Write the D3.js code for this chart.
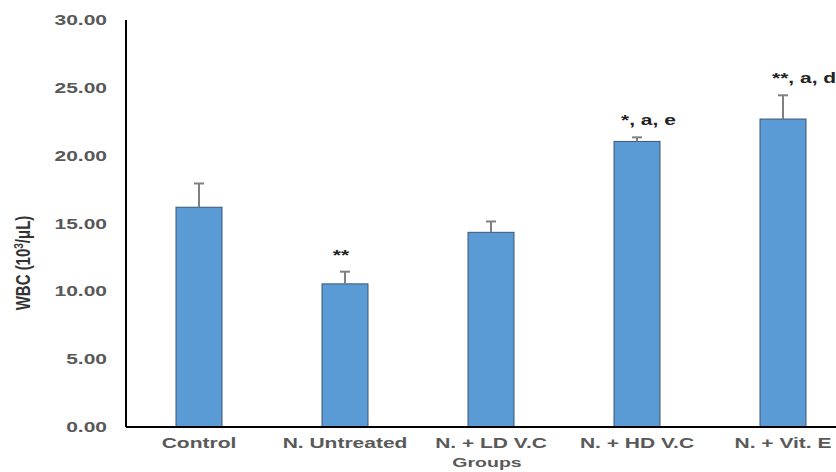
<!DOCTYPE html>
<html>
<head>
<meta charset="utf-8">
<script src="https://cdn.jsdelivr.net/npm/d3@7"></script>
<style>
  body { margin: 0; background: #fff; }
  text { font-family: "Liberation Sans", Arial, sans-serif; font-weight: bold; }
</style>
</head>
<body>
<svg id="chart" width="836" height="472"></svg>
<script>
// data
const groups = ["Control", "N. Untreated", "N. + LD V.C", "N. + HD V.C", "N. + Vit. E"];
const means = [16.2, 10.55, 14.35, 21.05, 22.7];
const errs = [1.75, 0.9, 0.8, 0.3, 1.75];
const marks = ["", "**", "", "*, a, e", "**, a, d"];
const yTicks = [0, 5, 10, 15, 20, 25, 30];

const svg = d3.select("#chart");
const sx = 1.5; // text in the picture is stretched wide

const x = d3.scaleBand().domain(groups).range([126, 856]).paddingInner(0.685).paddingOuter(0.3425);
const y = d3.scaleLinear().domain([0, 30]).range([427, 20]);

// y tick labels
svg.selectAll(".ylab")
  .data(yTicks).enter().append("text")
  .attr("transform", d => "translate(107," + (y(d) + 5) + ") scale(" + sx + ",1)")
  .attr("text-anchor", "end")
  .style("font-size", "14px")
  .attr("fill", "#595959")
  .text(d => d.toFixed(2));

// bars
svg.selectAll(".bar")
  .data(groups).enter().append("rect")
  .attr("x", d => x(d))
  .attr("width", x.bandwidth())
  .attr("y", (d, i) => y(means[i]))
  .attr("height", (d, i) => y(0) - y(means[i]))
  .attr("fill", "#5b9bd5")
  .attr("stroke", "#3c5670")
  .attr("stroke-width", 1);

// error bars
const eb = svg.append("g").attr("stroke", "#808080").attr("stroke-width", 2);
groups.forEach((g, i) => {
  const cx = x(g) + x.bandwidth() / 2;
  eb.append("line").attr("x1", cx).attr("x2", cx)
    .attr("y1", y(means[i])).attr("y2", y(means[i] + errs[i]));
  eb.append("line").attr("x1", cx - 5).attr("x2", cx + 5)
    .attr("y1", y(means[i] + errs[i])).attr("y2", y(means[i] + errs[i]));
});

// significance marks
const markOff = [0, -4, 0, -16, -11];
svg.selectAll(".mark")
  .data(groups).enter().append("text")
  .attr("transform", (d, i) => {
    const cx = x(d) + x.bandwidth() / 2 + markOff[i];
    return "translate(" + cx + "," + (y(means[i] + errs[i]) - 12) + ") scale(" + sx + ",1)";
  })
  .attr("text-anchor", (d, i) => i == 1 ? "middle" : "start")
  .style("font-size", "14px")
  .attr("fill", "#222")
  .text((d, i) => marks[i]);

// axes lines
svg.append("line").attr("x1", 126).attr("x2", 126).attr("y1", 20).attr("y2", 427)
  .attr("stroke", "#000").attr("stroke-width", 2);
svg.append("line").attr("x1", 126).attr("x2", 836).attr("y1", 427).attr("y2", 427)
  .attr("stroke", "#000").attr("stroke-width", 2);

// category labels
svg.selectAll(".xlab")
  .data(groups).enter().append("text")
  .attr("transform", d => "translate(" + (x(d) + x.bandwidth() / 2) + ",448) scale(" + sx + ",1)")
  .attr("text-anchor", "middle")
  .style("font-size", "14px")
  .attr("fill", "#595959")
  .text(d => d);

// axis titles
svg.append("text")
  .attr("transform", "translate(487,467) scale(" + sx + ",1)")
  .attr("text-anchor", "middle")
  .style("font-size", "13px")
  .attr("fill", "#595959")
  .text("Groups");

const yt = svg.append("text")
  .attr("transform", "translate(30,263) scale(1.35,1) rotate(-90)")
  .attr("text-anchor", "middle")
  .style("font-size", "15px")
  .attr("fill", "#333");
yt.append("tspan").text("WBC (10");
yt.append("tspan").attr("dy", -5).style("font-size", "10px").text("3");
yt.append("tspan").attr("dy", 5).text("/μL)");
</script>
</body>
</html>
